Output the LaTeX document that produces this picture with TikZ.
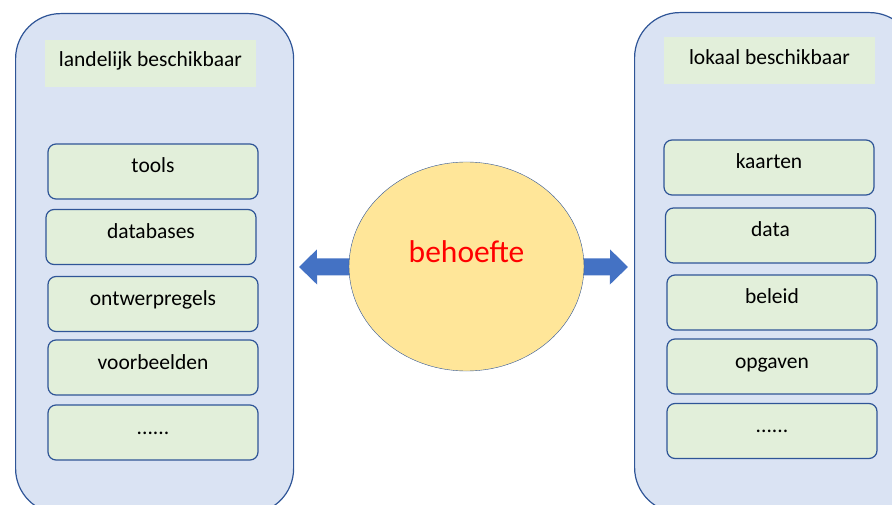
\documentclass[tikz,border=0pt]{standalone}
\usepackage{fontspec}
\setmainfont{Carlito}
\usetikzlibrary{shapes.geometric,arrows.meta,backgrounds}
\definecolor{panelblue}{HTML}{DAE3F3}
\definecolor{edgeblue}{HTML}{2F5597}
\definecolor{boxgreen}{HTML}{E2EFDA}
\definecolor{ballyellow}{HTML}{FFE699}
\definecolor{arrowblue}{HTML}{4472C4}
\newcommand\moredots{......}
\begin{document}
\begin{tikzpicture}
  [x=1pt,y=-1pt,
   panel/.style={draw=edgeblue,fill=panelblue,line width=1.2pt,rounded corners=45pt,anchor=north west},
   title/.style={fill=boxgreen,minimum width=211pt,minimum height=47pt,inner sep=0pt,font=\fontsize{21.5}{24}\selectfont,text height=15pt,text depth=8pt},
   item/.style={draw=edgeblue,fill=boxgreen,line width=1.2pt,rounded corners=8pt,minimum width=210pt,minimum height=55pt,inner sep=0pt,font=\fontsize{21.5}{24}\selectfont,text height=15pt,text depth=12pt},
   wish/.style={ellipse,draw=edgeblue,fill=ballyellow,minimum width=235pt,minimum height=209pt,inner sep=0pt,text=red,font=\fontsize{31.5}{36}\selectfont,text height=22pt,text depth=29pt},
   blockarrow/.style={draw=arrowblue,line width=17pt,-{Triangle[length=18pt,width=34pt]}}]
  \useasboundingbox (0,0) rectangle (892,505);
  \clip (0,0) rectangle (892,505);
  % the two side panels
  \node[panel,minimum width=278pt,minimum height=500pt] (landelijk) at (15,13) {};
  \node[panel,minimum width=280pt,minimum height=500pt] (lokaal) at (634,12) {};
  \node[title] (lt) at (150.5,63.5) {landelijk beschikbaar};
  \node[title] (rt) at (769.5,61) {lokaal beschikbaar};
  % items
  \foreach \n/\x/\y/\t in {l1/153/171.5/tools,l2/151/237/databases,l3/153/304/ontwerpregels,
      l4/153/367.5/voorbeelden,l5/153/432.5/\moredots,r1/769/167.5/kaarten,r2/770.5/235.5/data,
      r3/772/302.5/beleid,r4/772/366.5/opgaven,r5/772/431/\moredots}
    \node[item] (\n) at (\x,\y) {\t};
  % centre
  \node[wish] (need) at (466.5,266.5) {behoefte};
  \coordinate (ltip) at (299,267);
  \coordinate (rtip) at (628,267);
  \begin{scope}[on background layer]
    \draw[blockarrow] (need.center) -- (ltip);
    \draw[blockarrow] (need.center) -- (rtip);
  \end{scope}
\end{tikzpicture}
\end{document}
